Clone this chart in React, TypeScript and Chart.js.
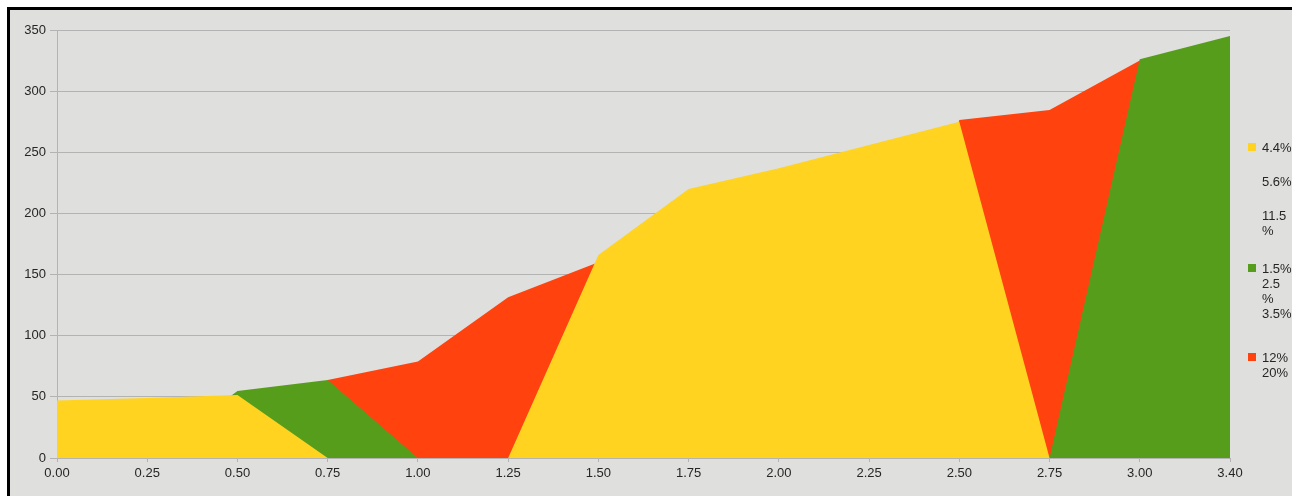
import React, { useEffect, useRef } from "react";
import { Chart, registerables } from "chart.js";

Chart.register(...registerables);

const categories = ["0.00", "0.25", "0.50", "0.75", "1.00", "1.25", "1.50", "1.75", "2.00", "2.25", "2.50", "2.75", "3.00", "3.40"];
const yellowValues = [47, 49, 51.5, 0, 0, 0, 166, 220, 237, 256, 275, 0, 0, 0];
const greenValues = [0, 0, 54.8, 63.8, 0, 0, 0, 0, 0, 0, 0, 0, 326, 345];
const redValues = [0, 0, 0, 63.8, 79, 131.5, 160, 0, 0, 0, 276.5, 284.5, 325, 0];
const seriesNames = ["4.4% 5.6% 11.5 %", "1.5% 2.5 % 3.5%", "12% 20%"];
const yTicks = [0, 50, 100, 150, 200, 250, 300, 350];

const YELLOW = "#ffd320";
const GREEN = "#579d1c";
const RED = "#ff420e";
const GRID = "#b3b3b3";
const BG = "#dfdfdd";
const TEXT = "#262626";
const FONT = "'Liberation Sans', Arial, sans-serif";

const legendItems = [
  { color: YELLOW, top: 139.5, groups: [["4.4%"], ["5.6%"], ["11.5", "%"]] },
  { color: GREEN, top: 260.5, groups: [["1.5%", "2.5", "%", "3.5%"]] },
  { color: RED, top: 349.5, groups: [["12%", "20%"]] },
];

export default function App() {
  const ref = useRef<HTMLCanvasElement | null>(null);

  useEffect(() => {
    if (!ref.current) return;
    const chart = new Chart(ref.current, {
      type: "line",
      data: {
        labels: categories,
        datasets: [
          { label: seriesNames[0], data: yellowValues, backgroundColor: YELLOW, borderColor: YELLOW, fill: "origin" },
          { label: seriesNames[1], data: greenValues, backgroundColor: GREEN, borderColor: GREEN, fill: "origin" },
          { label: seriesNames[2], data: redValues, backgroundColor: RED, borderColor: RED, fill: "origin" },
        ],
      },
      options: {
        animation: false,
        responsive: false,
        devicePixelRatio: 1,
        layout: { padding: { top: 20, right: 62, left: 0, bottom: 0 } },
        elements: {
          line: { tension: 0, borderWidth: 0 },
          point: { radius: 0, hoverRadius: 0 },
        },
        plugins: {
          legend: { display: false },
          tooltip: { enabled: false },
          title: { display: false },
        },
        scales: {
          x: {
            type: "category",
            offset: false,
            grid: { display: true, drawOnChartArea: false, drawTicks: true, tickLength: 4, color: GRID },
            border: { display: true, color: GRID },
            ticks: { color: TEXT, font: { family: FONT, size: 13 }, padding: 4, maxRotation: 0, autoSkip: false },
            afterFit: (scale: any) => {
              scale.height = 38;
            },
          },
          y: {
            min: 0,
            max: 350,
            afterBuildTicks: (scale: any) => {
              scale.ticks = yTicks.map((v) => ({ value: v }));
            },
            grid: { color: GRID, tickLength: 7, lineWidth: 1 },
            border: { display: true, color: GRID },
            ticks: { color: TEXT, font: { family: FONT, size: 13 }, padding: 4 },
            afterFit: (scale: any) => {
              scale.width = 47;
            },
          },
        },
      },
    });
    return () => chart.destroy();
  }, []);

  return (
    <div
      style={{
        position: "fixed",
        left: 7,
        top: 7,
        width: 1285,
        height: 489,
        boxSizing: "border-box",
        borderLeft: "3px solid #000",
        borderTop: "3px solid #000",
        background: BG,
        overflow: "hidden",
      }}
    >
      <canvas ref={ref} width={1282} height={486} style={{ position: "absolute", left: 0, top: 0, width: 1282, height: 486 }} />
      {legendItems.map((item, i) => (
        <div key={i} style={{ position: "absolute", left: 1238, top: item.top - 10, fontFamily: FONT, fontSize: 13, color: TEXT, lineHeight: "15px" }}>
          <div style={{ position: "absolute", left: 0, top: 3.5, width: 8, height: 8, background: item.color }} />
          <div style={{ position: "absolute", left: 14, top: 0, whiteSpace: "nowrap" }}>
            {item.groups.map((g, gi) => (
              <div key={gi} style={{ marginTop: gi === 0 ? 0 : 19 }}>
                {g.map((line, li) => (
                  <div key={li}>{line}</div>
                ))}
              </div>
            ))}
          </div>
        </div>
      ))}
    </div>
  );
}
